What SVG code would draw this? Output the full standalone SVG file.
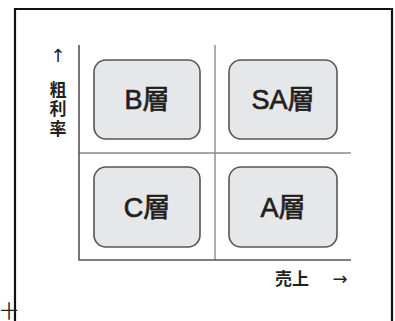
<svg xmlns="http://www.w3.org/2000/svg" width="395" height="321" viewBox="0 0 395 321">
<style>
.frame{fill:none;stroke:#111;stroke-width:2.2}
.axis{stroke:#555;stroke-width:1.6;fill:none}
.grid{stroke:#8a8a8a;stroke-width:1.4;fill:none}
.box{fill:#e6e7e8;stroke:#555;stroke-width:1.6}
.lbl{font-family:"Liberation Sans","Noto Sans CJK JP",sans-serif;font-size:27px;fill:#231f20;stroke:#231f20;stroke-width:0.7;text-anchor:middle}
.ax{font-family:"Noto Sans CJK JP","Liberation Sans",sans-serif;font-size:17px;font-weight:bold;fill:#231f20}
.arr{font-family:"DejaVu Sans","Noto Sans CJK JP",sans-serif;font-size:18px;fill:#231f20}
</style>
<rect width="395" height="321" fill="#fff"/>
<path class="frame" d="M15,325 V9 H392 V325"/>
<g id="connectors">
<line class="grid" x1="79" y1="153" x2="351" y2="153"/>
<line class="grid" x1="215" y1="45" x2="215" y2="260"/>
<path class="axis" d="M79,45 V260 H351"/>
</g>
<g id="node-B">
<rect class="box" x="94" y="60" width="106" height="79" rx="12"/>
<text class="lbl" x="147" y="109">B層</text>
</g>
<g id="node-SA">
<rect class="box" x="229" y="60" width="108" height="79" rx="12"/>
<text class="lbl" x="283" y="109">SA層</text>
</g>
<g id="node-C">
<rect class="box" x="94" y="167" width="106" height="80" rx="12"/>
<text class="lbl" x="147" y="217">C層</text>
</g>
<g id="node-A">
<rect class="box" x="229" y="167" width="108" height="80" rx="12"/>
<text class="lbl" x="283" y="217">A層</text>
</g>
<g id="y-label">
<text class="arr" x="58" y="62" text-anchor="middle">↑</text>
<text class="ax" x="58" y="81" writing-mode="vertical-rl" letter-spacing="2.5">粗利率</text>
</g>
<g id="x-label">
<text class="ax" x="275" y="285">売上</text>
<text class="arr" x="340" y="285" text-anchor="middle">→</text>
</g>
<text class="arr" x="0" y="318" font-size="12">十</text>
</svg>
